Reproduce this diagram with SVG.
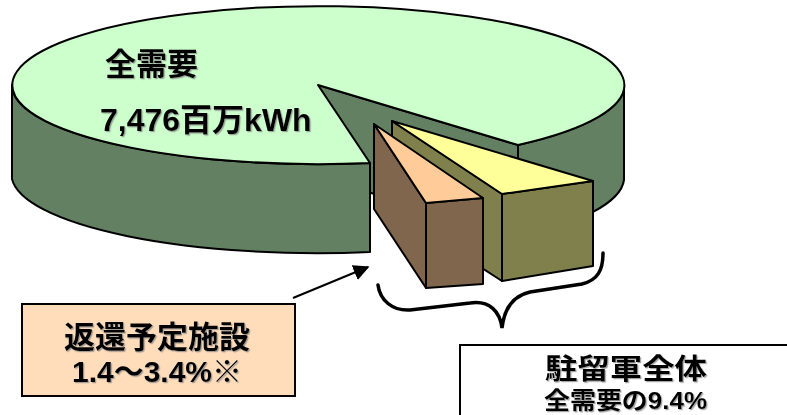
<svg xmlns="http://www.w3.org/2000/svg" width="787" height="415" viewBox="0 0 787 415">
<defs>
<style>
.sh{stroke:#000;stroke-width:2;stroke-linejoin:round}
.top{fill:#CCFFCC}
.side{fill:#638063}
.t{font-family:"Liberation Sans","Noto Sans CJK JP",sans-serif;font-weight:bold;fill:#000}
.shadow{filter:url(#ds)}
</style>
<filter id="ds" x="-5%" y="-20%" width="115%" height="150%">
<feDropShadow dx="1.2" dy="1.2" stdDeviation="0.6" flood-color="#808080" flood-opacity="0.7"/>
</filter>
<marker id="ah" viewBox="0 0 10 10" refX="9" refY="5" markerWidth="16" markerHeight="16" markerUnits="userSpaceOnUse" orient="auto">
<path d="M0,0 L10,5 L0,10 Z" fill="#000"/>
</marker>
</defs>
<rect width="787" height="415" fill="#fff"/>

<g id="pie-total">
<polygon class="sh side" points="318,85 518,145 518,237 318,177"/>
<path class="sh side" d="M12,85 A306,79 0 0,0 370,163 L370,252 A306,79 0 0,1 12,179 Z"/>
<path class="sh side" d="M518,145 A306,79 0 0,0 624,85 L624,180 A306,79 0 0,1 518,237 Z"/>
<path class="sh top" d="M318,85 L518,145 A306,79 0 1,0 370,163 Z"/>
<text class="t shadow" x="105" y="75" font-size="31">全需要</text>
<text class="t shadow" x="100" y="131" font-size="32">7,476百万kWh</text>
</g>

<g id="slice-military">
<polygon class="sh" fill="#80804D" points="392,121 502,194 502,281 392,210"/>
<polygon class="sh" fill="#80804D" points="502,194 593,181 593,266 502,281"/>
<polygon class="sh" fill="#FFFF99" points="392,121 502,194 593,181"/>
</g>

<g id="slice-return">
<polygon class="sh" fill="#80664D" points="374,124 426,203 426,288 374,209"/>
<polygon class="sh" fill="#80664D" points="426,203 483,198 483,284 426,288"/>
<polygon class="sh" fill="#FFCC99" points="374,124 426,203 483,198"/>
</g>

<g id="connectors">
<line x1="293" y1="298" x2="368" y2="267" stroke="#000" stroke-width="2" marker-end="url(#ah)"/>
<path d="M378,285 C380,300 392,311 410,310 L470,303 C490,300 500,312 502,328 C504,310 512,296 530,292 L582,284 C598,280 603,270 603,253" fill="none" stroke="#000" stroke-width="3.5" stroke-linecap="round"/>
</g>

<g id="label-return">
<rect x="22" y="304" width="273" height="92" fill="#FFDDBB" stroke="#000" stroke-width="2"/>
<text class="t shadow" x="157" y="348" font-size="31" text-anchor="middle">返還予定施設</text>
<text class="t shadow" x="157" y="382" font-size="30" text-anchor="middle">1.4～3.4%※</text>
</g>

<g id="label-military">
<rect x="460" y="345" width="340" height="90" fill="#fff" stroke="#000" stroke-width="2"/>
<text class="t shadow" x="545" y="379" font-size="28" textLength="162" lengthAdjust="spacingAndGlyphs">駐留軍全体</text>
<text class="t shadow" x="544" y="409" font-size="24" textLength="163" lengthAdjust="spacingAndGlyphs">全需要の9.4%</text>
</g>
</svg>
